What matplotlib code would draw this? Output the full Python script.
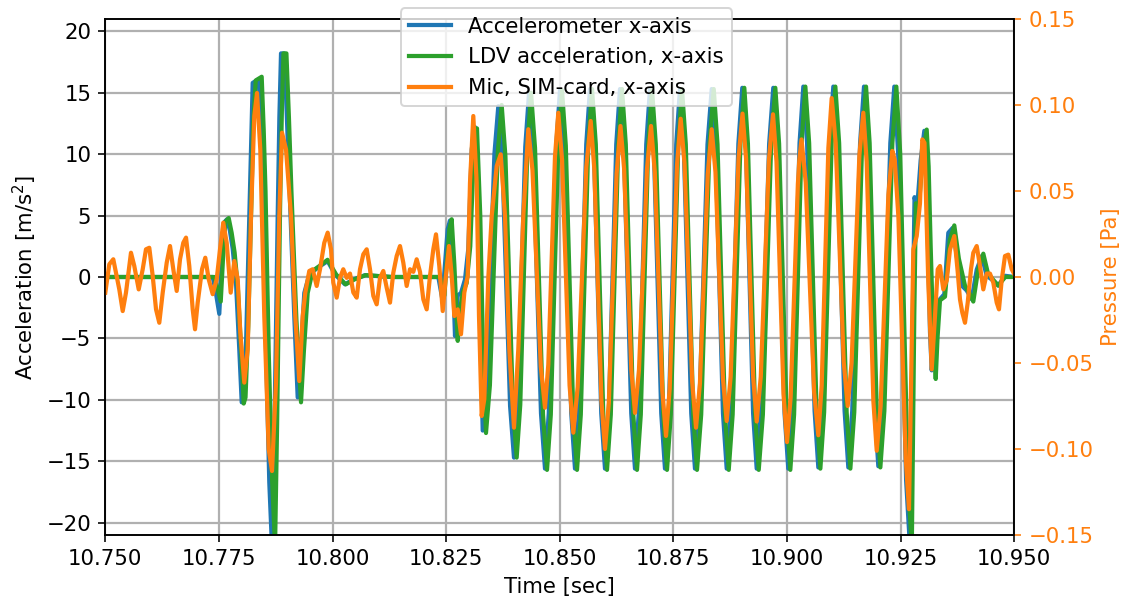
import numpy as np
import matplotlib
matplotlib.use("Agg")
import matplotlib.pyplot as plt
from matplotlib.ticker import FormatStrFormatter

# ---- data: (milliseconds after 10.750 s, value) ----
T0 = 10.75

accel = [
    (0.00, 0.0), (23.63, 0.0), (24.20, -1.0), (25.08, -3.0), (25.55, 0.5), (26.05, 4.4),
    (26.78, 4.7), (27.40, 3.8), (28.03, 2.3), (28.76, -0.5), (29.48, -5.9), (30.01, -10.2),
    (30.40, -10.0), (31.00, -5.0), (31.68, 5.0), (32.10, 11.5), (32.43, 15.8), (33.75, 16.1),
    (34.20, 12.5), (34.63, 7.7), (35.36, -5.9), (36.08, -16.7), (36.68, -22.0), (37.23, -12.0),
    (37.93, 5.0), (38.30, 13.0), (38.66, 18.2), (39.38, 18.2), (39.90, 13.5), (40.48, 7.7),
    (41.58, -3.2), (42.33, -9.8), (43.06, -5.9), (43.78, -1.3), (44.88, 0.2), (46.73, 0.75),
    (48.93, 1.3), (50.54, 0.2), (52.74, -0.6), (54.57, -0.2), (57.14, 0.15), (63.01, 0.0),
    (73.27, 0.0), (74.15, -1.8), (75.33, 3.9), (75.84, 4.6), (76.35, 1.7), (76.94, -4.8),
    (77.54, -1.5), (78.26, -1.3), (79.14, -0.2), (79.87, 2.3), (80.62, 10.4), (81.34, 12.2),
    (82.07, 5.0), (82.60, -5.9), (83.04, -12.5),
    (83.90, -8.6), (84.76, 0.7), (85.61, 10.0), (86.47, 13.9),
    (87.33, 9.7), (88.20, -0.4), (89.06, -10.5), (89.92, -14.7),
    (90.75, -10.4), (91.57, 0.1), (92.40, 10.6), (93.22, 14.9),
    (94.10, 10.4), (94.98, -0.35), (95.86, -11.1), (96.74, -15.6),
    (97.57, -11.1), (98.39, -0.2), (99.22, 10.7), (100.04, 15.2),
    (100.87, 10.7), (101.69, -0.2), (102.52, -11.1), (103.34, -15.6),
    (104.17, -11.1), (104.99, -0.15), (105.82, 10.8), (106.64, 15.3),
    (107.47, 10.8), (108.29, -0.15), (109.12, -11.1), (109.94, -15.6),
    (110.77, -11.1), (111.59, -0.15), (112.42, 10.8), (113.24, 15.3),
    (114.07, 10.8), (114.89, -0.15), (115.72, -11.1), (116.54, -15.6),
    (117.37, -11.1), (118.19, -0.15), (119.02, 10.8), (119.84, 15.3),
    (120.67, 10.8), (121.49, -0.15), (122.32, -11.1), (123.14, -15.6),
    (123.97, -11.1), (124.79, -0.15), (125.62, 10.8), (126.44, 15.3),
    (127.27, 10.8), (128.09, -0.15), (128.92, -11.1), (129.74, -15.6),
    (130.66, -11.1), (131.58, -0.15), (132.50, 10.8), (133.42, 15.3),
    (134.25, 10.8), (135.07, -0.15), (135.90, -11.1), (136.72, -15.6),
    (137.58, -11.1), (138.44, -0.1), (139.29, 10.85), (140.15, 15.4),
    (140.94, 10.85), (141.74, -0.1), (142.53, -11.1), (143.32, -15.6),
    (144.23, -11.1), (145.15, -0.1), (146.06, 10.85), (146.97, 15.4),
    (147.80, 10.85), (148.62, -0.1), (149.45, -11.1), (150.27, -15.6),
    (151.10, -11.1), (151.93, -0.05), (152.75, 10.9), (153.58, 15.5),
    (154.41, 10.9), (155.23, 0.0), (156.06, -10.9), (156.88, -15.5),
    (157.71, -10.9), (158.53, 0.0), (159.36, 10.9), (160.18, 15.5),
    (161.01, 10.9), (161.83, 0.0), (162.66, -10.9), (163.48, -15.5),
    (164.34, -10.9), (165.21, 0.0), (166.07, 10.9), (166.93, 15.5),
    (167.72, 10.9), (168.51, 0.05), (169.29, -10.8), (170.08, -15.4),
    (170.96, -10.8), (171.84, 0.05), (172.72, 10.9), (173.60, 15.5),
    (174.46, 10.0), (175.33, -3.2), (176.19, -16.5), (177.05, -22.0),
    (177.40, -12.0), (177.65, -3.2), (178.05, 6.5), (178.60, 5.5), (179.40, 9.5), (180.20, 11.9),
    (180.60, 9.0), (181.00, 2.5), (181.45, -4.5), (181.83, -7.6), (182.30, -5.0),
    (182.93, -2.6), (183.65, -1.8), (184.60, -1.4), (185.48, 3.6), (186.45, 4.0), (187.33, 1.7),
    (188.43, -0.7), (189.53, -1.1), (190.63, -1.8), (191.73, 0.6), (192.83, 1.7), (193.93, 0.1),
    (195.03, -0.2), (196.48, -0.7), (197.95, 0.1), (200.00, 0.0),
]

ldv = [
    (0.00, 0.0), (24.0, 0.0), (24.6, -0.8), (25.4, -2.0), (25.9, 1.5), (26.4, 4.5),
    (27.15, 4.8), (27.8, 3.6), (28.45, 2.0), (29.15, -0.8), (29.9, -6.0), (30.45, -10.3),
    (30.85, -9.8), (31.45, -4.0), (32.1, 5.5), (32.55, 12.5), (33.1, 16.0), (34.41, 16.3),
    (34.85, 12.0), (35.25, 7.0), (35.95, -6.0), (36.7, -16.5), (37.35, -22.0), (37.8, -12.0),
    (38.45, 5.5), (38.85, 13.5), (39.2, 18.2), (39.85, 18.2), (40.4, 13.0), (40.95, 7.0),
    (42.05, -3.5), (43.06, -10.2), (43.7, -6.0), (44.53, -1.3), (45.63, 0.5), (47.5, 1.0),
    (48.9, 1.4), (50.8, 0.2), (52.9, -0.6), (54.8, -0.2), (57.3, 0.15), (63.0, 0.0),
    (73.6, 0.0), (74.6, -1.5), (75.7, 3.9), (76.21, 4.7), (76.8, 1.0), (77.54, -5.2),
    (78.1, -2.5), (78.7, -1.2), (79.5, -0.5), (80.3, 2.5), (81.1, 10.4), (81.78, 12.1),
    (82.5, 5.0), (83.1, -6.0), (83.76, -12.7),
    (84.62, -8.8), (85.49, 0.65), (86.35, 10.1), (87.21, 14.0),
    (88.04, 9.8), (88.86, -0.35), (89.69, -10.5), (90.51, -14.7),
    (91.30, -10.4), (92.09, 0.15), (92.88, 10.6), (93.67, 15.0),
    (94.55, 10.5), (95.43, -0.35), (96.31, -11.2), (97.19, -15.7),
    (98.02, -11.2), (98.84, -0.25), (99.67, 10.7), (100.49, 15.2),
    (101.32, 10.7), (102.14, -0.25), (102.97, -11.2), (103.79, -15.7),
    (104.62, -11.2), (105.44, -0.2), (106.27, 10.8), (107.09, 15.3),
    (107.92, 10.8), (108.74, -0.2), (109.57, -11.2), (110.39, -15.7),
    (111.22, -11.2), (112.04, -0.2), (112.87, 10.8), (113.69, 15.3),
    (114.52, 10.8), (115.34, -0.2), (116.17, -11.2), (116.99, -15.7),
    (117.82, -11.2), (118.64, -0.2), (119.47, 10.8), (120.29, 15.3),
    (121.12, 10.8), (121.94, -0.2), (122.77, -11.2), (123.59, -15.7),
    (124.42, -11.2), (125.24, -0.2), (126.07, 10.8), (126.89, 15.3),
    (127.72, 10.8), (128.54, -0.2), (129.37, -11.2), (130.19, -15.7),
    (131.11, -11.2), (132.03, -0.2), (132.95, 10.8), (133.87, 15.3),
    (134.70, 10.8), (135.52, -0.2), (136.35, -11.2), (137.17, -15.7),
    (138.03, -11.2), (138.89, -0.15), (139.74, 10.85), (140.60, 15.4),
    (141.39, 10.85), (142.19, -0.15), (142.98, -11.2), (143.77, -15.7),
    (144.68, -11.2), (145.60, -0.15), (146.51, 10.85), (147.42, 15.4),
    (148.25, 10.85), (149.07, -0.15), (149.90, -11.2), (150.72, -15.7),
    (151.55, -11.2), (152.38, -0.1), (153.20, 10.9), (154.03, 15.5),
    (154.86, 10.9), (155.68, -0.05), (156.51, -11.0), (157.33, -15.6),
    (158.16, -11.0), (158.98, -0.05), (159.81, 10.9), (160.63, 15.5),
    (161.46, 10.9), (162.28, -0.05), (163.11, -11.0), (163.93, -15.6),
    (164.79, -11.0), (165.66, -0.05), (166.52, 10.9), (167.38, 15.5),
    (168.17, 10.9), (168.96, 0.0), (169.74, -10.9), (170.53, -15.5),
    (171.41, -10.9), (172.29, 0.0), (173.17, 10.9), (174.05, 15.5),
    (174.90, 10.0), (175.75, -3.2), (176.60, -16.5), (177.45, -22.0),
    (177.75, -12.0), (178.00, -3.0), (178.35, 6.0), (178.95, 5.5), (179.85, 9.8), (180.73, 12.0),
    (181.15, 9.0), (181.6, 2.5), (182.15, -4.5), (182.71, -8.3), (183.1, -5.0),
    (183.65, -1.9), (184.75, -1.6), (185.8, 3.0), (186.80, 4.2), (187.8, 1.5), (189.15, -0.7),
    (190.1, -1.3), (190.98, -2.0), (192.0, 0.5), (193.18, 1.9), (194.2, 0.3), (195.3, -0.2),
    (196.48, -0.7), (198.0, 0.0), (200.0, 0.0),
]

mic = [
    (0.00, -0.0091), (0.88, 0.0074), (1.76, 0.0103), (2.35, 0.0025), (3.08, -0.0072), (3.83, -0.0198),
    (4.55, -0.0091), (5.65, 0.0141), (6.38, 0.0064), (7.35, -0.0072), (8.23, 0.0045), (8.95, 0.0161),
    (9.68, 0.0170), (10.43, 0.0006), (11.16, -0.0188), (11.88, -0.0266), (12.63, -0.0091), (13.51, 0.0083),
    (14.24, 0.0180), (14.96, 0.0045), (15.71, -0.0081), (16.44, 0.0103), (17.16, 0.0199), (17.76, 0.0229),
    (18.48, 0.0064), (19.23, -0.0188), (19.74, -0.0304), (20.33, -0.0149), (21.28, 0.0045), (22.00, 0.0112),
    (22.75, -0.0013), (23.63, -0.0100), (24.51, -0.0013), (25.24, 0.0161), (25.96, 0.0316), (26.71, 0.0199),
    (27.59, -0.0091), (28.38, 0.0093), (29.13, -0.0013), (29.70, -0.0324), (30.58, -0.0614), (31.33, -0.0420),
    (32.06, 0.0355), (32.78, 0.0936), (33.38, 0.1070), (34.10, 0.0742), (34.98, -0.0227), (35.95, -0.1000),
    (36.68, -0.1128), (37.56, -0.0614), (38.28, 0.0355), (38.88, 0.0839), (39.76, 0.0742), (40.86, 0.0355),
    (41.80, -0.0227), (42.68, -0.0605), (43.43, -0.0227), (44.00, -0.0091), (44.88, 0.0035), (45.63, 0.0045),
    (46.51, -0.0052), (47.24, 0.0045), (48.18, 0.0199), (48.93, 0.0258), (49.66, 0.0161), (50.16, -0.0033),
    (50.91, -0.0120), (51.64, -0.0005), (52.36, 0.0045), (53.11, -0.0005), (53.84, 0.0020), (54.57, -0.0090),
    (55.31, -0.0120), (56.04, 0.0045), (56.77, 0.0132), (57.51, 0.0161), (58.24, 0.0045), (58.97, -0.0110),
    (59.71, -0.0159), (60.44, -0.0005), (61.17, 0.0035), (61.91, -0.0062), (62.64, -0.0149), (63.37, 0.0025),
    (64.11, 0.0122), (64.84, 0.0180), (65.57, 0.0083), (66.31, -0.0052), (67.04, 0.0045), (67.77, 0.0030),
    (68.51, 0.0103), (69.24, 0.0030), (69.97, -0.0130), (70.71, -0.0188), (71.44, 0.0006), (72.17, 0.0161),
    (72.76, 0.0248), (73.49, 0.0064), (74.24, -0.0198), (74.90, -0.0005), (75.62, 0.0180), (76.22, 0.0006),
    (76.79, -0.0227), (77.54, -0.0188), (78.26, -0.0333), (78.99, -0.0091), (79.74, 0.0006), (80.24, 0.0548),
    (80.97, 0.0936), (81.71, 0.0548), (82.22, -0.0227), (82.81, -0.0808), (83.39, -0.0710), (84.27, -0.0005),
    (85.02, 0.0355), (86.12, 0.0645), (87.00, 0.0713), (87.94, 0.0355), (88.89, -0.0420), (89.92, -0.0876),
    (90.87, -0.0420), (91.97, 0.0355), (93.07, 0.0859),
    (93.99, 0.062), (94.91, 0.005), (95.82, -0.052), (96.74, -0.076),
    (97.47, -0.051), (98.21, 0.010), (98.94, 0.070), (99.67, 0.0955),
    (100.50, 0.068), (101.32, 0.0025), (102.15, -0.063), (102.97, -0.0905),
    (103.93, -0.064), (104.88, 0.0), (105.84, 0.064), (106.80, 0.0907),
    (107.59, 0.063), (108.37, -0.005), (109.16, -0.072), (109.94, -0.100),
    (110.79, -0.073), (111.65, -0.006), (112.50, 0.060), (113.35, 0.0878),
    (114.15, 0.063), (114.94, 0.004), (115.74, -0.054), (116.54, -0.079),
    (117.42, -0.054), (118.31, 0.004), (119.19, 0.063), (120.07, 0.0878),
    (120.90, 0.061), (121.72, -0.002), (122.55, -0.066), (123.37, -0.0924),
    (124.18, -0.065), (124.99, 0.0), (125.79, 0.065), (126.60, 0.0920),
    (127.44, 0.066), (128.29, 0.002), (129.13, -0.061), (129.97, -0.0876),
    (130.83, -0.062), (131.70, -0.001), (132.56, 0.060), (133.42, 0.0859),
    (134.25, 0.061), (135.07, 0.001), (135.90, -0.059), (136.72, -0.0837),
    (137.59, -0.058), (138.46, 0.006), (139.33, 0.069), (140.20, 0.0950),
    (140.98, 0.069), (141.76, 0.006), (142.54, -0.058), (143.32, -0.0840),
    (144.22, -0.058), (145.12, 0.005), (146.01, 0.068), (146.91, 0.0946),
    (147.68, 0.067), (148.45, -0.001), (149.22, -0.068), (149.99, -0.0960),
    (150.79, -0.070), (151.59, -0.008), (152.38, 0.054), (152.70, 0.068), (153.18, 0.0800),
    (154.11, 0.055), (155.03, -0.006), (155.96, -0.067), (156.88, -0.0920),
    (157.62, -0.063), (158.35, 0.006), (159.09, 0.075), (159.82, 0.1040),
    (160.70, 0.078), (161.58, 0.015), (162.46, -0.049), (163.34, -0.0750),
    (164.20, -0.050), (165.06, 0.010), (165.92, 0.071), (166.78, 0.0955),
    (167.52, 0.067), (168.26, -0.003), (168.99, -0.072), (169.73, -0.1010),
    (170.59, -0.075), (171.45, -0.014), (172.30, 0.048), (173.16, 0.0733),
    (173.70, 0.068), (174.50, 0.035), (175.30, -0.035), (176.10, -0.105), (176.83, -0.1350),
    (177.78, 0.0160), (178.53, 0.0238), (179.25, 0.0430), (179.76, 0.0800), (180.24, 0.0780),
    (181.08, -0.0033), (181.83, -0.0537), (182.55, -0.0227), (183.15, 0.0045), (183.65, 0.0064),
    (184.38, -0.0072), (185.13, -0.0020), (185.85, 0.0160), (186.80, 0.0238), (187.55, 0.0030),
    (188.05, -0.0130), (188.56, -0.0207), (189.15, -0.0266), (189.75, -0.0149), (190.47, 0.0045),
    (190.98, 0.0141), (191.73, 0.0180), (192.45, 0.0064), (193.18, -0.0072), (193.93, 0.0020),
    (194.65, 0.0020), (195.38, -0.0033), (196.13, -0.0149), (196.63, -0.0188), (197.22, -0.0020),
    (197.95, 0.0122), (198.68, 0.0130), (199.43, 0.0045), (200.00, 0.0017),
]

labels = ["Accelerometer x-axis", "LDV acceleration, x-axis", "Mic, SIM-card, x-axis"]
x_ticks = [10.750, 10.775, 10.800, 10.825, 10.850, 10.875, 10.900, 10.925, 10.950]
acc_ticks = [-20, -15, -10, -5, 0, 5, 10, 15, 20]
p_ticks = [-0.15, -0.10, -0.05, 0.00, 0.05, 0.10, 0.15]


def split(series):
    arr = np.array(series, dtype=float)
    return T0 + arr[:, 0] / 1000.0, arr[:, 1]


plt.rcParams["font.size"] = 10.6
LW = 2.1

W, H, DPI = 1127, 605, 144
fig = plt.figure(figsize=(W / DPI, H / DPI), dpi=DPI)
ax = fig.add_axes([105.3 / W, 1 - 535 / H, (1014.3 - 105.3) / W, (535 - 19) / H])

ta, va = split(accel)
tl, vl = split(ldv)
tm, vm = split(mic)

h1, = ax.plot(ta, va, color="tab:blue", lw=LW, label=labels[0])
h2, = ax.plot(tl, vl, color="tab:green", lw=LW, label=labels[1])
ax.set_xlim(10.75, 10.95)
ax.set_ylim(-21, 21)
ax.set_xticks(x_ticks)
ax.xaxis.set_major_formatter(FormatStrFormatter("%.3f"))
ax.set_yticks(acc_ticks)
ax.grid(True, lw=1.1)
ax.set_xlabel("Time [sec]")
ax.set_ylabel("Acceleration [m/s$^2$]")

ax2 = ax.twinx()
h3, = ax2.plot(tm, vm, color="tab:orange", lw=LW, label=labels[2])
ax2.set_ylim(-0.15, 0.15)
ax2.set_yticks(p_ticks)
ax2.tick_params(axis="y", colors="tab:orange")
ax2.set_ylabel("Pressure [Pa]", color="tab:orange")

ax2.legend([h1, h2, h3], labels, loc="upper center",
           bbox_to_anchor=(0.5074, 1.0207), borderaxespad=0)

fig.savefig("out.png", dpi=DPI)
